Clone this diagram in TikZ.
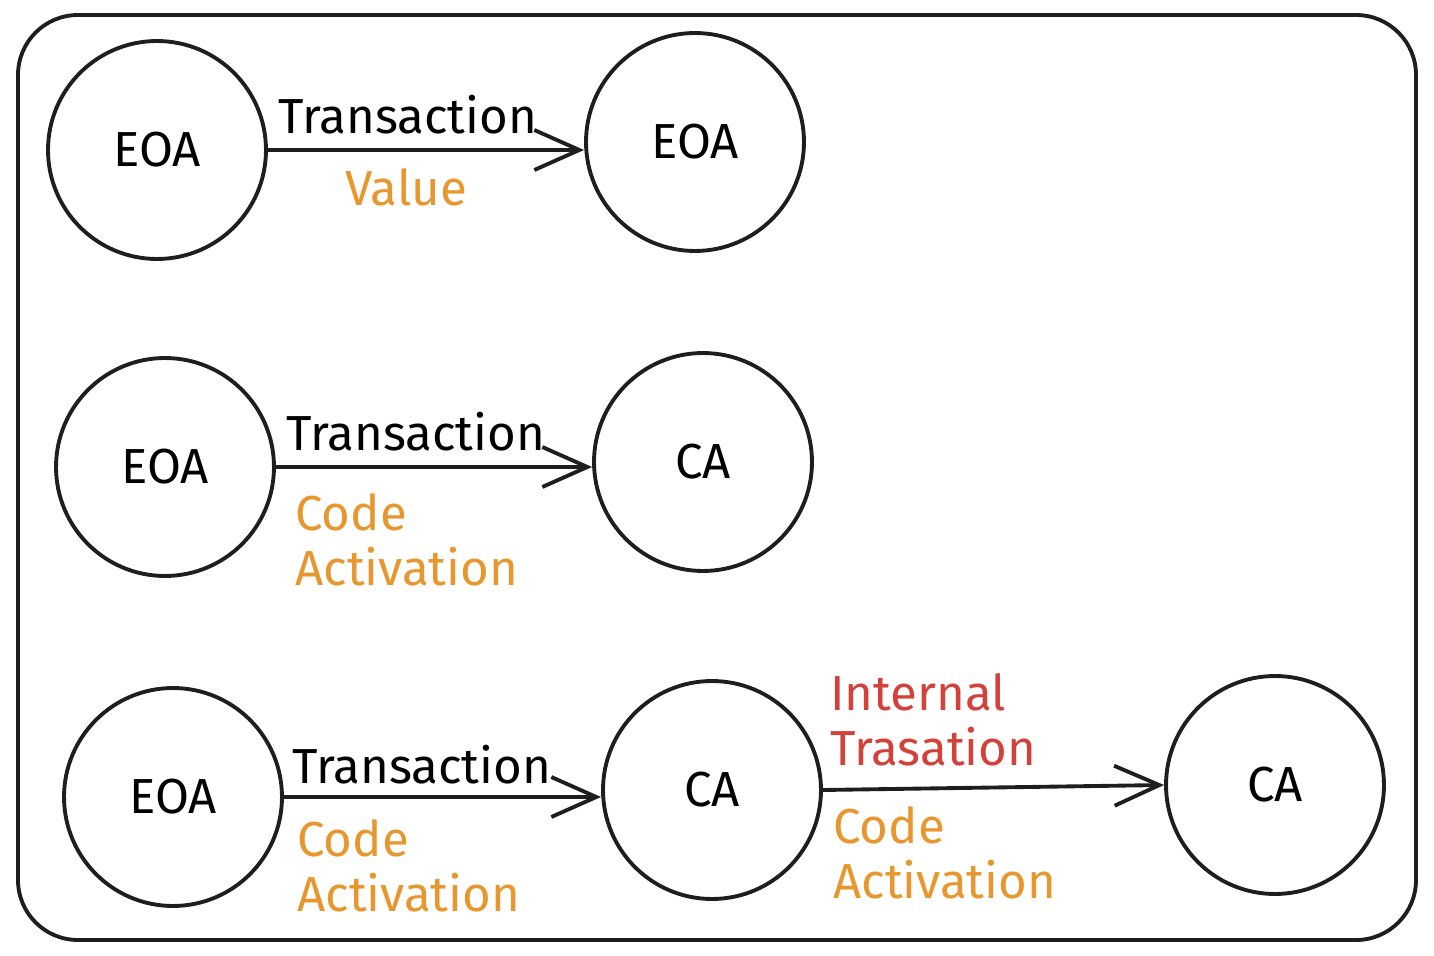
\documentclass[tikz,border=0pt]{standalone}
\usepackage{fontspec}
\setmainfont{Fira Sans}
\usepackage{xcolor}
\usetikzlibrary{arrows.meta}
\definecolor{ink}{HTML}{1E1E1E}
\definecolor{codeorange}{HTML}{E8962E}
\definecolor{internred}{HTML}{D2413A}
\tikzset{
  account/.style={draw=ink,circle,line width=2.2pt,minimum size=4.36cm,inner sep=0pt,font=\fontsize{28}{32}\selectfont},
  call/.style={draw=ink,line width=2.2pt,->},
  lbl/.style={font=\fontsize{28}{31}\selectfont,inner sep=0pt,anchor=west,align=left},
}
\begin{document}
\begin{tikzpicture}[x=0.02cm,y=-0.02cm,>={Straight Barb[length=9mm,width=8mm,line width=2.2pt]}]
\useasboundingbox (0,0) rectangle (1434,956);
\draw[ink,line width=2.2pt,rounded corners=1.2cm] (18,15) rectangle (1416,940);

% row 1
\node[account] (eoaA) at (157,150) {EOA};
\node[account] (eoaB) at (695,142) {EOA};
\draw[call] (eoaA.east) -- (eoaA.east -| eoaB.west);
\node[lbl] (txA) at (278,115) {Transaction};
\node[lbl,text=codeorange] (valA) at (345,187) {Value};

% row 2
\node[account] (eoaC) at (165,467) {EOA};
\node[account] (caC) at (703,462) {CA};
\draw[call] (eoaC.east) -- (eoaC.east -| caC.west);
\node[lbl] (txC) at (286,432) {Transaction};
\node[lbl,text=codeorange] (codeC) at (295,540) {Code\\Activation};

% row 3
\node[account] (eoaD) at (173,797) {EOA};
\node[account] (caD) at (712,790) {CA};
\node[account] (caE) at (1275,785) {CA};
\draw[call] (eoaD.east) -- (eoaD.east -| caD.west);
\draw[call] (caD.east) -- (caE.west);
\node[lbl] (txD) at (292,765) {Transaction};
\node[lbl,text=codeorange] (codeD) at (297,866) {Code\\Activation};
\node[lbl,text=internred] (intE) at (830,720) {Internal\\Trasation};
\node[lbl,text=codeorange] (codeE) at (833,853) {Code\\Activation};
\end{tikzpicture}
\end{document}
